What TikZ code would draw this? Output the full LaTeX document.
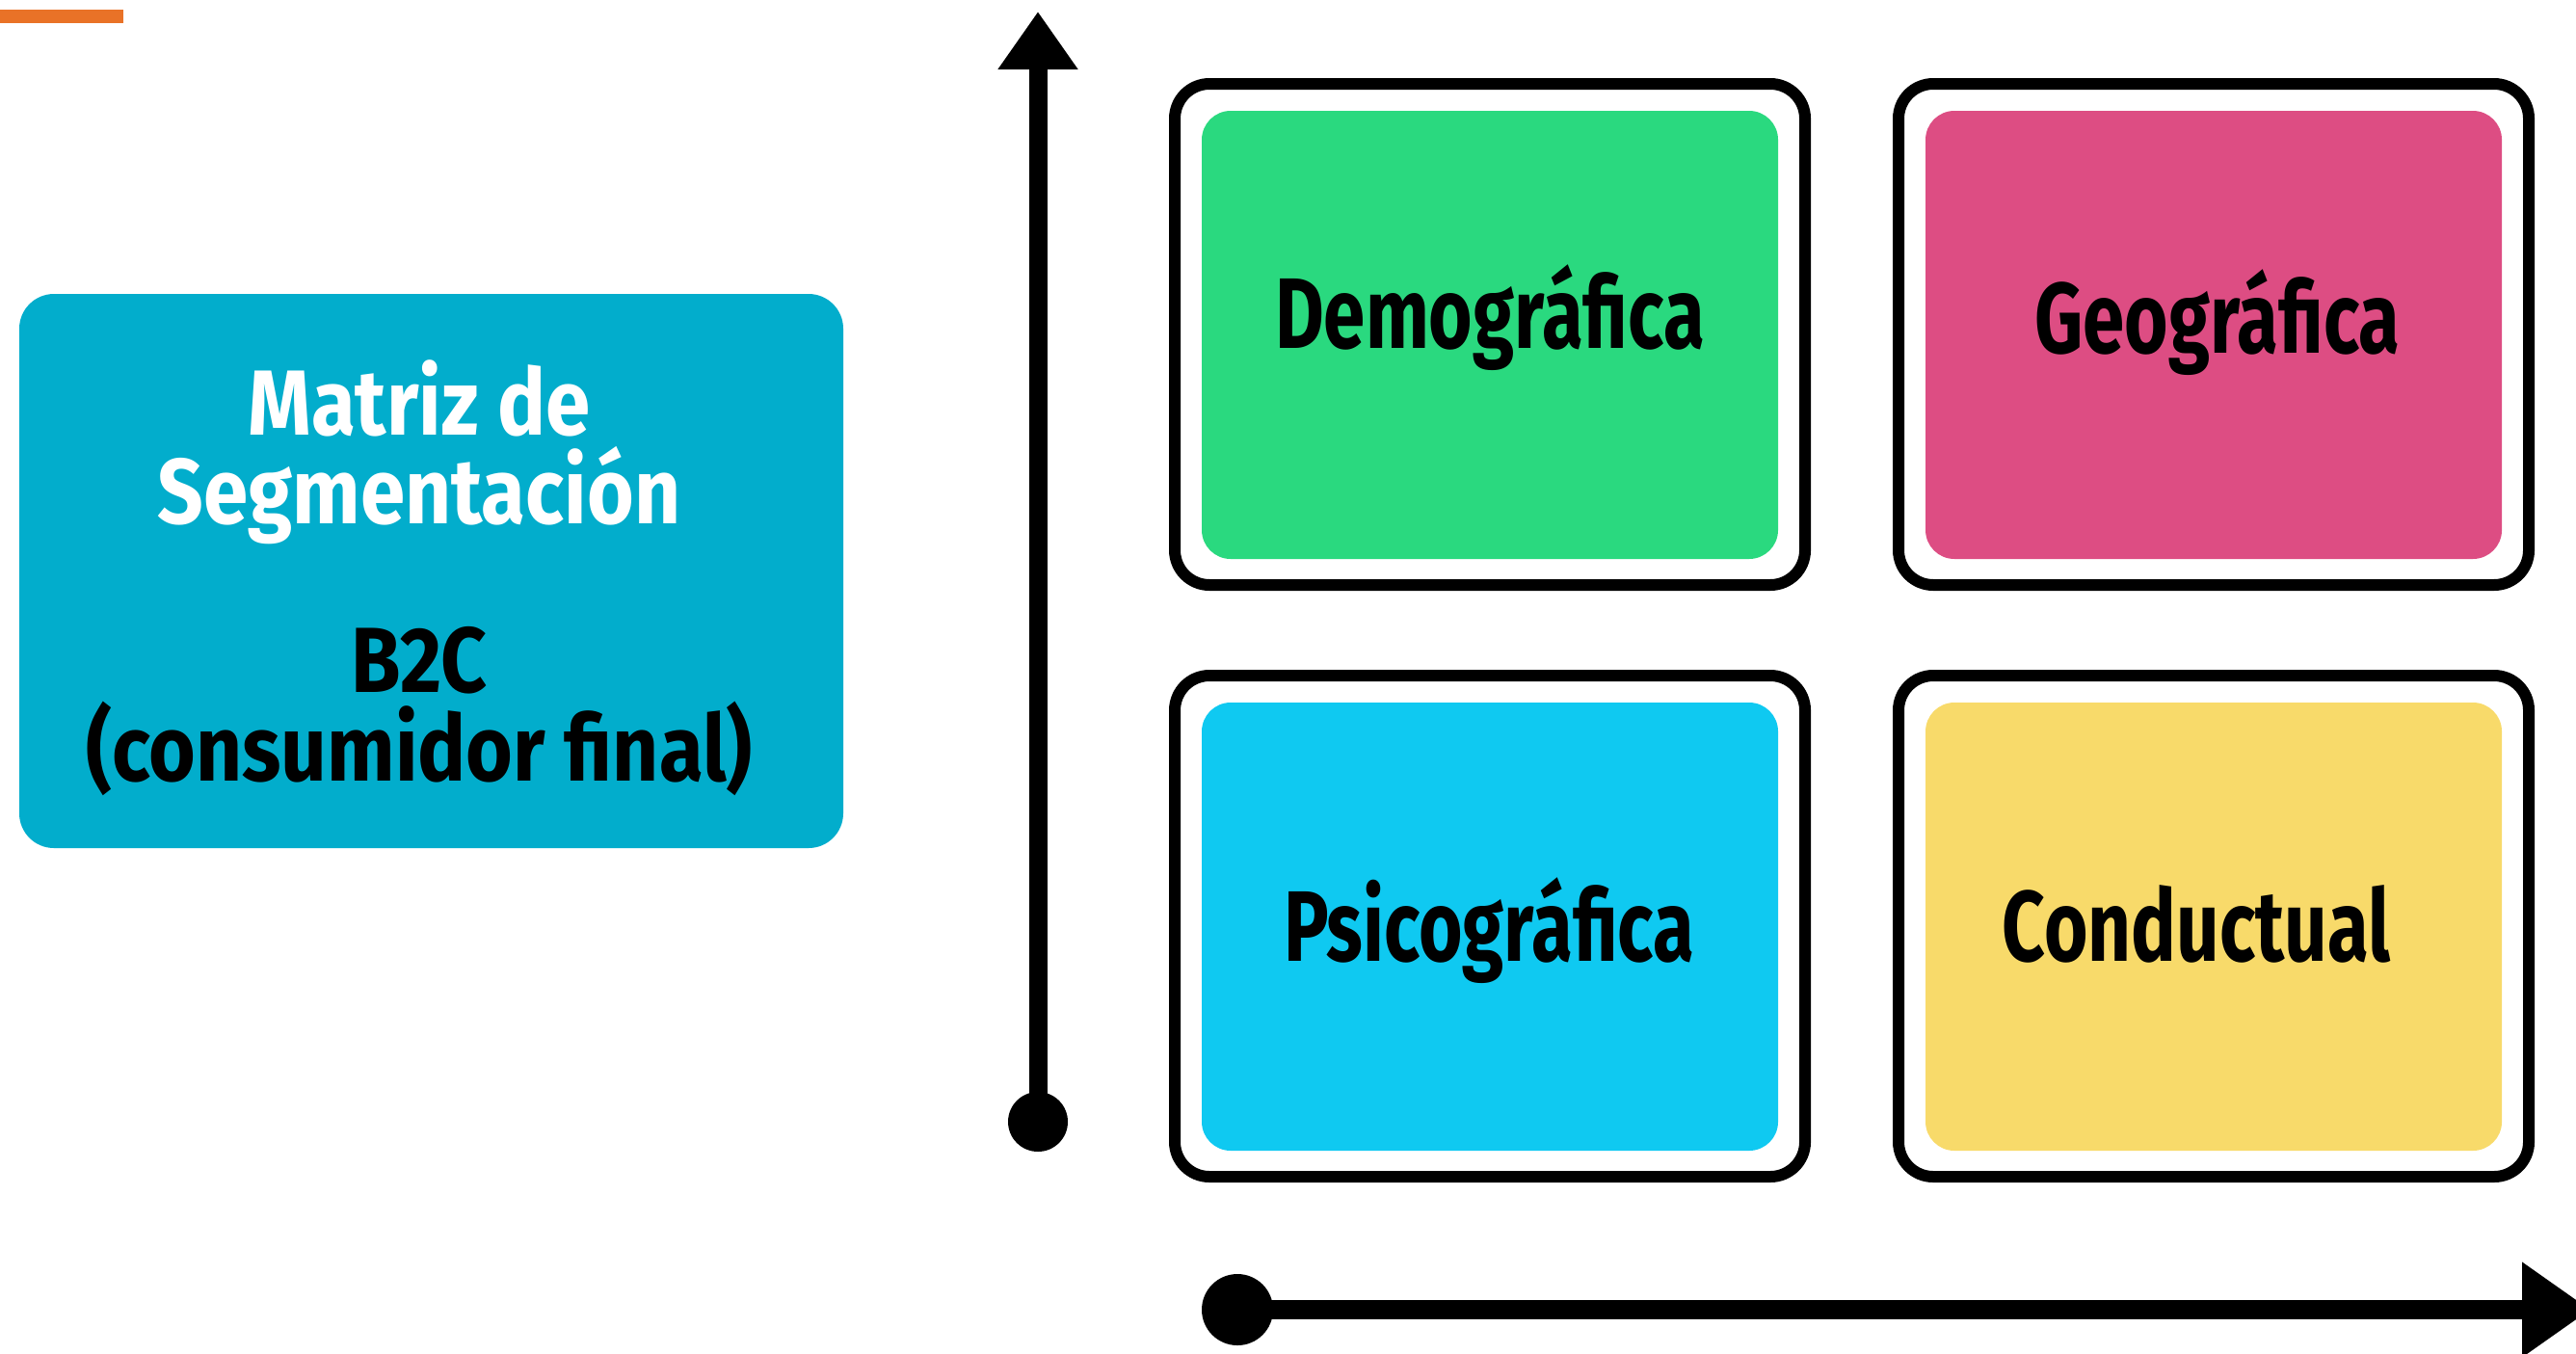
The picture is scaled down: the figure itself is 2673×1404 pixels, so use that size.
\documentclass[tikz,border=0pt]{standalone}
\usepackage{fontspec}
\usetikzlibrary{arrows.meta}
\newfontfamily\handfont{Fira Sans}[FakeStretch=0.75]
\newfontfamily\panelfont{Fira Sans}[FakeStretch=0.87]
\definecolor{accent}{HTML}{E97227}
\definecolor{panelblue}{HTML}{02ADCC}
\definecolor{demogreen}{HTML}{2AD97F}
\definecolor{geopink}{HTML}{DD4D83}
\definecolor{psicyan}{HTML}{0FC9F1}
\definecolor{condyellow}{HTML}{F8DA6A}

\begin{document}
\begin{tikzpicture}[x=0.25pt,y=-0.25pt,
  cellframe/.style={draw=black, line width=3pt, rounded corners=9pt,
    minimum width=163.5pt, minimum height=130pt, inner sep=0pt},
  tile/.style={fill=#1, rounded corners=7.5pt, minimum width=149.5pt,
    minimum height=116.25pt, inner sep=0pt},
  tiletext/.style={anchor=base, inner sep=0pt,
    font=\handfont\bfseries\fontsize{26}{30}\selectfont},
  paneltext/.style={anchor=base, inner sep=0pt, text=#1, align=center,
    font=\panelfont\bfseries\fontsize{24}{23}\selectfont},
  dot/.style={circle, fill=black, inner sep=0pt, minimum size=#1},
  axisline/.style={draw=black, line width=#1}
]
\useasboundingbox (0,0) rectangle (2673,1404);
\clip (0,0) rectangle (2673,1404);

% orange accent bar in the corner
\fill[accent] (0,10) rectangle (128,24);

% title panel (node text is placed by the baseline of its last line)
\node[fill=panelblue, rounded corners=9pt, minimum width=213.75pt,
  minimum height=143.75pt, inner sep=0pt] (panel) at (447.5,592.5) {};
\node[paneltext=white] (title) at (435,543) {Matriz de\\Segmentación};
\node[paneltext=black] (kind) at (435,810) {B2C\\(consumidor final)};

% axes
\node[dot=15.5pt] (vbase) at (1077,1164) {};
\coordinate (vtip) at (1077,12);
\draw[axisline=4.75pt, -{Triangle[width=19.75pt,length=15pt]}] (vbase.center) -- (vtip);

\node[dot=18.5pt] (hbase) at (1284,1359) {};
\coordinate (htip) at (2688,1359);
\draw[axisline=5pt, -{Triangle[width=23.5pt,length=17.75pt]}] (hbase.center) -- (htip);

% quadrants
\node[cellframe] (fdemo) at (1546,347) {};
\node[tile=demogreen] (demo) at (1546,347.5) {};
\node[tiletext] (ldemo) at (1546,361) {Demográfica};

\node[cellframe] (fgeo) at (2297,347) {};
\node[tile=geopink] (geo) at (2297,347.5) {};
\node[tiletext] (lgeo) at (2301,366) {Geográfica};

\node[cellframe] (fpsi) at (1546,961) {};
\node[tile=psicyan] (psi) at (1546,961.5) {};
\node[tiletext] (lpsi) at (1545,997) {Psicográfica};

\node[cellframe] (fcond) at (2297,961) {};
\node[tile=condyellow] (cond) at (2297,961.5) {};
\node[tiletext] (lcond) at (2279,997) {Conductual};
\end{tikzpicture}
\end{document}
